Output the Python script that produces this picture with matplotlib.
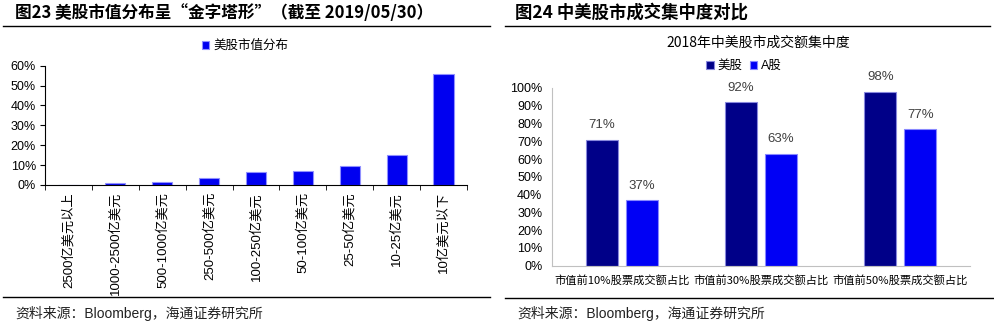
import numpy as np
import matplotlib
matplotlib.use("Agg")
import matplotlib.pyplot as plt
from matplotlib.lines import Line2D

plt.rcParams['font.family'] = ['Liberation Sans', 'Noto Sans CJK SC', 'DejaVu Sans']

# ---- data ----
cap_labels = ['2500亿美元以上', '1000-2500亿美元', '500-1000亿美元', '250-500亿美元',
              '100-250亿美元', '50-100亿美元', '25-50亿美元', '10-25亿美元', '10亿美元以下']
cap_share = [0.002, 0.010, 0.015, 0.033, 0.063, 0.068, 0.098, 0.153, 0.560]

conc_labels = ['市值前10%股票成交额占比', '市值前30%股票成交额占比', '市值前50%股票成交额占比']
us_share = [0.71, 0.92, 0.98]
a_share = [0.37, 0.63, 0.77]

W, H = 995, 328
fig = plt.figure(figsize=(W / 100, H / 100), dpi=100)


def fx(px):
    return px / W


def fy(py):
    return 1 - py / H


def hline(x0, x1, y):
    fig.add_artist(Line2D([fx(x0), fx(x1)], [fy(y), fy(y)], color='black', lw=1.0))


pct = lambda v, p: f'{v * 100:.0f}%'
title_font = ['Noto Sans CJK SC', 'DejaVu Sans']

# ---- left panel ----
fig.text(fx(15), fy(13), '图23 美股市值分布呈“金字塔形”（截至 2019/05/30）',
         fontsize=12, fontweight='bold', va='center', ha='left', family=title_font)
hline(3, 490, 26)
hline(3, 490, 297)
fig.text(fx(15), fy(313), '资料来源：Bloomberg，海通证券研究所', fontsize=10,
         va='center', ha='left', color='#222222')

ax1 = fig.add_axes([fx(45), fy(185), fx(467) - fx(45), fy(65.7) - fy(185)])
x = np.arange(len(cap_labels))
ax1.bar(x, cap_share, width=0.43, color='#0000F0', edgecolor='#9090FF', linewidth=0.8,
        label='美股市值分布')
ax1.set_xlim(-0.5, len(cap_labels) - 0.5)
ax1.set_ylim(0, 0.6)
ax1.set_yticks(np.arange(0, 0.61, 0.1))
ax1.yaxis.set_major_formatter(matplotlib.ticker.FuncFormatter(pct))
ax1.set_xticks(x)
ax1.set_xticklabels(cap_labels, rotation=90, fontsize=9.5, va='top')
ax1.set_xticks(np.arange(-0.5, len(cap_labels), 1), minor=True)
ax1.tick_params(axis='x', which='major', length=0, pad=5)
ax1.tick_params(axis='x', which='minor', length=3.5, direction='out')
ax1.tick_params(axis='y', length=3.5, labelsize=9, pad=3)
for s in ['top', 'right']:
    ax1.spines[s].set_visible(False)
ax1.legend(loc='center', bbox_to_anchor=(fx(245), fy(46)), bbox_transform=fig.transFigure,
           frameon=False, fontsize=9, handlelength=0.6, handleheight=0.6, handletextpad=0.3)

# ---- right panel ----
fig.text(fx(515), fy(13), '图24 中美股市成交集中度对比',
         fontsize=12.5, fontweight='bold', va='center', ha='left', family=title_font)
hline(505, 990, 26)
hline(505, 993, 298)
fig.text(fx(517), fy(313), '资料来源：Bloomberg，海通证券研究所', fontsize=10,
         va='center', ha='left', color='#222222')
fig.text(fx(758), fy(43), '2018年中美股市成交额集中度', fontsize=10, ha='center', va='center',
         family=['Noto Sans CJK SC'])

ax2 = fig.add_axes([fx(552), fy(265.7), fx(970) - fx(552), fy(88) - fy(265.7)])
x2 = np.arange(len(conc_labels))
bw = 0.23
off = 0.143
b1 = ax2.bar(x2 - off, us_share, width=bw, color='#000088', edgecolor='#8888DD', linewidth=0.8,
             label='美股')
b2 = ax2.bar(x2 + off, a_share, width=bw, color='#0000F5', edgecolor='#8888FF', linewidth=0.8,
             label='A股')
for bars in (b1, b2):
    for r in bars:
        ax2.annotate(f'{r.get_height() * 100:.0f}%', (r.get_x() + r.get_width() / 2, r.get_height()),
                     xytext=(0, 6), textcoords='offset points', ha='center', va='bottom',
                     fontsize=9.5, color='#404040', annotation_clip=False)
ax2.set_xlim(-0.5, len(conc_labels) - 0.5)
ax2.set_ylim(0, 1.0)
ax2.set_yticks(np.arange(0, 1.01, 0.1))
ax2.yaxis.set_major_formatter(matplotlib.ticker.FuncFormatter(pct))
ax2.set_xticks(x2)
ax2.set_xticklabels(conc_labels, fontsize=8.1, family=['Noto Sans CJK SC'])
ax2.tick_params(axis='x', length=0, pad=7)
ax2.tick_params(axis='y', length=0, labelsize=9, pad=7)
for s in ['top', 'right']:
    ax2.spines[s].set_visible(False)
for s in ['left', 'bottom']:
    ax2.spines[s].set_color('#C0C0C0')
ax2.legend(loc='center', bbox_to_anchor=(fx(744), fy(66)), bbox_transform=fig.transFigure,
           ncol=2, frameon=False, fontsize=9, handlelength=0.6, handleheight=0.6,
           handletextpad=0.3, columnspacing=0.6)

fig.savefig('out.png', dpi=100)
